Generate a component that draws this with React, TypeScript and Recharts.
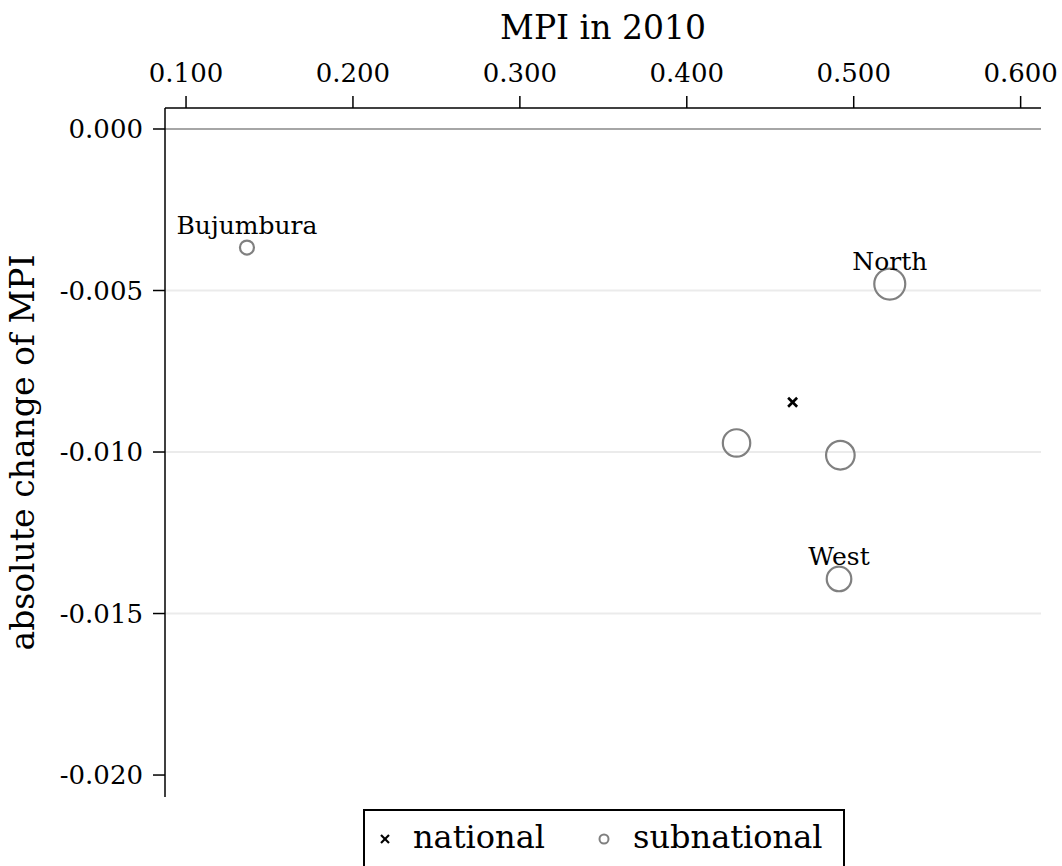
import { ScatterChart, Scatter, XAxis, YAxis, ZAxis, CartesianGrid, ReferenceLine, Legend } from "recharts";

const subLabels = ["Bujumbura", "North", "", "", "West"];
const subMpi = [0.1365, 0.5216, 0.4298, 0.492, 0.4912];
const subChange = [-0.00367, -0.0048, -0.00972, -0.0101, -0.01393];
const subSize = [49, 240, 188, 204, 151];
const nationalMpi = [0.4634];
const nationalChange = [-0.00846];
const xTicks = [0.1, 0.2, 0.3, 0.4, 0.5, 0.6];
const yTicks = [0, -0.005, -0.01, -0.015, -0.02];
const gridValues = [-0.005, -0.01, -0.015];

const subnational = subMpi.map((x, i) => ({ x, y: subChange[i], z: subSize[i], label: subLabels[i] }));
const national = nationalMpi.map((x, i) => ({ x, y: nationalChange[i], z: 0 }));

const FONT = "'DejaVu Serif', serif";

const Bubble = (p: any) => {
  const r = Math.sqrt((p.size ?? 0) / Math.PI);
  return (
    <g>
      <circle cx={p.cx} cy={p.cy} r={r} fill="none" stroke="#808080" strokeWidth={2.2} />
      {p.payload.label ? (
        <text x={p.cx} y={p.cy - 14} textAnchor="middle" fontSize={25} fontFamily={FONT} fill="#000">
          {p.payload.label}
        </text>
      ) : null}
    </g>
  );
};

const Cross = (p: any) => (
  <g stroke="#000" strokeWidth={2.6}>
    <line x1={p.cx - 4.5} y1={p.cy - 4.5} x2={p.cx + 4.5} y2={p.cy + 4.5} />
    <line x1={p.cx - 4.5} y1={p.cy + 4.5} x2={p.cx + 4.5} y2={p.cy - 4.5} />
  </g>
);

const LegendBox = (props: any) => {
  const items = props.payload || [];
  const slots = [
    { mx: 22, tx: 50 },
    { mx: 241, tx: 270 },
  ];
  return (
    <svg width={482} height={70}>
      <rect x={1} y={1} width={480} height={90} fill="#fff" stroke="#000" strokeWidth={2} />
      {items.map((it: any, i: number) => {
        const s = slots[i] || slots[0];
        return (
          <g key={it.value}>
            {i === 0 ? (
              <g stroke="#000" strokeWidth={2.2}>
                <line x1={s.mx - 4} y1={26} x2={s.mx + 4} y2={34} />
                <line x1={s.mx - 4} y1={34} x2={s.mx + 4} y2={26} />
              </g>
            ) : (
              <circle cx={s.mx} cy={30} r={4.5} fill="none" stroke="#808080" strokeWidth={2} />
            )}
            <text x={s.tx} y={39} fontSize={32} fontFamily={FONT} fill="#000">
              {it.value}
            </text>
          </g>
        );
      })}
    </svg>
  );
};

export default function App() {
  return (
    <div style={{ position: "absolute", left: 0, top: 0, width: 1062, height: 866, overflow: "hidden", background: "#fff" }}>
      <ScatterChart width={1062} height={866} margin={{ top: 0, right: 21, bottom: 69, left: 0 }} style={{ fontFamily: FONT }}>
        <CartesianGrid horizontal vertical={false} horizontalValues={gridValues} stroke="#ebebeb" strokeWidth={2} />
        <ReferenceLine y={0} stroke="#888" strokeWidth={1.5} />
        <XAxis
          type="number"
          dataKey="x"
          orientation="top"
          height={108}
          domain={[0.0874, 0.6122]}
          allowDataOverflow
          ticks={xTicks}
          tickFormatter={(v: number) => v.toFixed(3)}
          tickSize={12}
          tickMargin={14}
          stroke="#000"
          strokeWidth={1.5}
          tick={{ fill: "#000", fontSize: 26, fontFamily: FONT }}
          label={{ value: "MPI in 2010", position: "insideTop", offset: 16, fill: "#000", fontSize: 33, fontFamily: FONT }}
        />
        <YAxis
          type="number"
          dataKey="y"
          width={165}
          domain={[-0.02068, 0.00065]}
          allowDataOverflow
          ticks={yTicks}
          tickFormatter={(v: number) => v.toFixed(3)}
          tickSize={12}
          tickMargin={10}
          stroke="#000"
          strokeWidth={1.5}
          tick={{ fill: "#000", fontSize: 26, fontFamily: FONT }}
          label={{
            value: "absolute change of MPI",
            angle: -90,
            position: "insideLeft",
            offset: 22,
            fill: "#000",
            fontSize: 33,
            fontFamily: FONT,
            style: { textAnchor: "middle" },
          }}
        />
        <ZAxis type="number" dataKey="z" domain={[0, 240]} range={[0, 240 * Math.PI]} />
        <Scatter name="national" data={national} shape={Cross} isAnimationActive={false} />
        <Scatter name="subnational" data={subnational} shape={Bubble} isAnimationActive={false} />
        <Legend
          layout="horizontal"
          verticalAlign="middle"
          align="center"
          wrapperStyle={{ left: 363, top: 809, width: 482, height: 70 }}
          content={LegendBox}
        />
      </ScatterChart>
    </div>
  );
}
